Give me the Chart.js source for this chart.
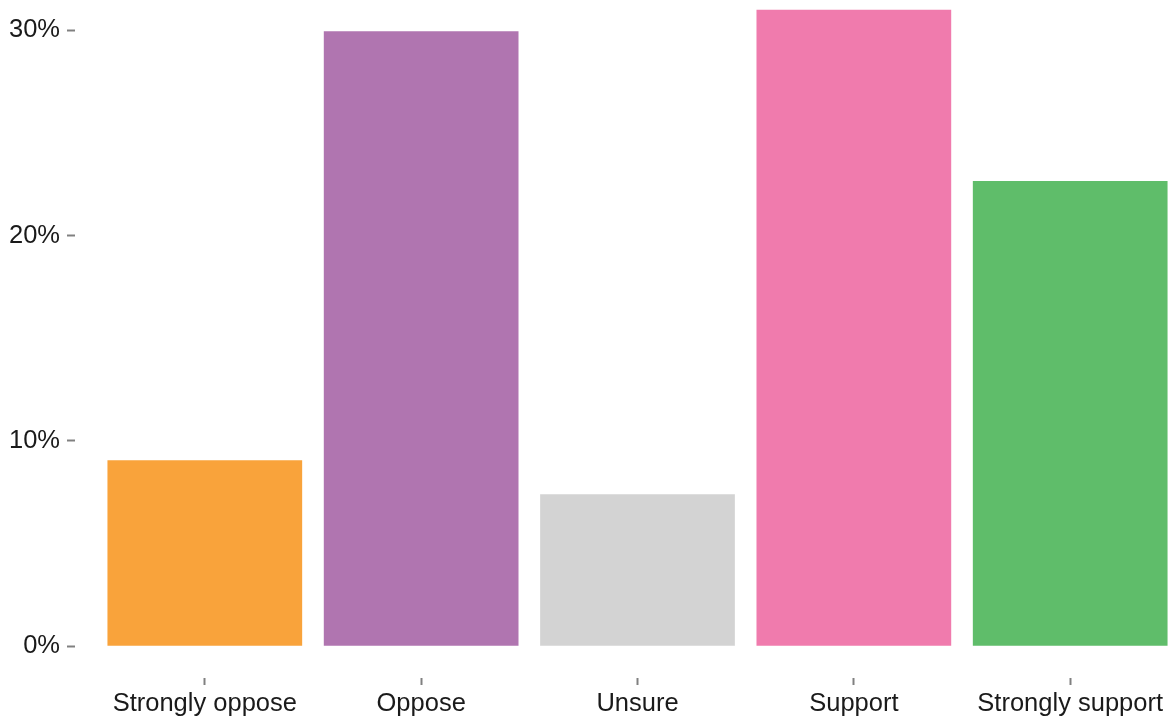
<!DOCTYPE html>
<html>
<head>
<meta charset="utf-8">
<script src="https://cdn.jsdelivr.net/npm/chart.js@4"></script>
<style>
  html, body { margin: 0; padding: 0; background: #fff; overflow: hidden; }
  #wrap { position: relative; width: 1200px; height: 719px; }
</style>
</head>
<body>
<div id="wrap"><canvas id="chart"></canvas></div>
<script>
const categories = ['Strongly oppose', 'Oppose', 'Unsure', 'Support', 'Strongly support'];
const shares = [9.05, 29.95, 7.4, 31.0, 22.65];
const barColors = ['#F9A33B', '#B075B0', '#D3D3D3', '#F07BAD', '#5FBD6A'];
const yTicks = [0, 10, 20, 30];

const ctx = document.getElementById('chart');

new Chart(ctx, {
    type: 'bar',
    data: {
        datasets: [{
            data: shares.map((v, i) => ({ x: i + 1, y: v })),
            backgroundColor: barColors,
            borderWidth: 0,
            barPercentage: 0.9,
            categoryPercentage: 1
        }]
    },
    options: {
        responsive: true,
        maintainAspectRatio: false,
        animation: false,
        layout: { padding: 0 },
        plugins: {
            legend: { display: false },
            tooltip: { enabled: false }
        },
        scales: {
            x: {
                type: 'linear',
                min: 0.4,
                max: 5.6,
                offset: false,
                afterBuildTicks: scale => {
                    scale.ticks = categories.map((c, i) => ({ value: i + 1 }));
                },
                afterFit: scale => {
                    scale.height = 41;
                    scale.paddingLeft = 0;
                    scale.paddingRight = 0;
                },
                border: { display: false },
                grid: {
                    offset: false,
                    drawOnChartArea: false,
                    tickLength: 7,
                    tickColor: '#808080',
                    tickWidth: 2
                },
                ticks: {
                    autoSkip: false,
                    maxRotation: 0,
                    padding: 4,
                    color: '#1a1a1a',
                    font: { family: 'Liberation Sans', size: 25.5 },
                    callback: v => categories[v - 1]
                }
            },
            y: {
                min: -1.55,
                max: 31.47,
                afterBuildTicks: scale => {
                    scale.ticks = yTicks.map(v => ({ value: v }));
                },
                afterFit: scale => {
                    scale.width = 75;
                    scale.paddingTop = 0;
                    scale.paddingBottom = 0;
                },
                border: { display: false },
                grid: {
                    drawOnChartArea: false,
                    tickLength: 8,
                    tickColor: '#808080',
                    tickWidth: 2
                },
                ticks: {
                    padding: 7,
                    color: '#1a1a1a',
                    font: { family: 'Liberation Sans', size: 25.5 },
                    callback: v => v + '%'
                }
            }
        }
    }
});
</script>
</body>
</html>
